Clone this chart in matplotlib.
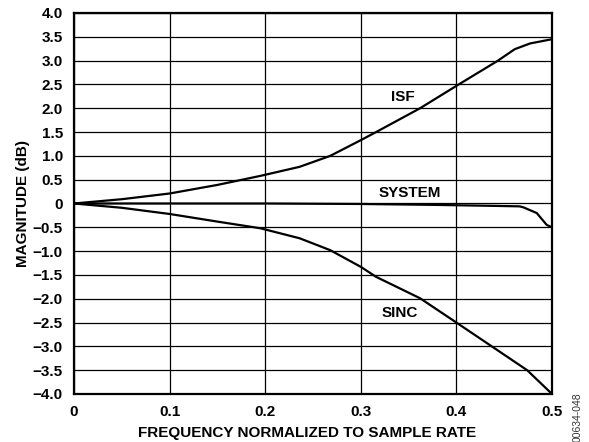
import matplotlib
matplotlib.use('Agg')
import matplotlib.pyplot as plt

plt.rcParams['font.family'] = ['Liberation Sans', 'DejaVu Sans']
plt.rcParams['font.weight'] = 'bold'

# values (normalized frequency, dB)
isf_freq = [0, 0.05, 0.1, 0.15, 0.195, 0.236, 0.268, 0.3, 0.316, 0.362, 0.4, 0.4435, 0.461, 0.477, 0.5]
isf_db = [0, 0.09, 0.21, 0.39, 0.58, 0.77, 1.0, 1.33, 1.5, 2.0, 2.47, 3.0, 3.24, 3.36, 3.45]

sinc_freq = [0, 0.05, 0.1, 0.15, 0.195, 0.236, 0.268, 0.3, 0.316, 0.362, 0.4, 0.437, 0.474, 0.5]
sinc_db = [0, -0.09, -0.22, -0.38, -0.52, -0.73, -0.98, -1.33, -1.54, -1.99, -2.5, -3.0, -3.5, -4.0]

sys_freq = [0, 0.1, 0.2, 0.3, 0.38, 0.44, 0.466, 0.47, 0.484, 0.4945, 0.5]
sys_db = [0, 0, 0, -0.01, -0.03, -0.05, -0.06, -0.08, -0.2, -0.45, -0.5]

x_ticks = [0, 0.1, 0.2, 0.3, 0.4, 0.5]
x_labels = ['0', '0.1', '0.2', '0.3', '0.4', '0.5']
y_ticks = [4.0, 3.5, 3.0, 2.5, 2.0, 1.5, 1.0, 0.5, 0, -0.5, -1.0, -1.5, -2.0, -2.5, -3.0, -3.5, -4.0]
y_labels = ['4.0', '3.5', '3.0', '2.5', '2.0', '1.5', '1.0', '0.5', '0',
            '\u22120.5', '\u22121.0', '\u22121.5', '\u22122.0', '\u22122.5', '\u22123.0', '\u22123.5', '\u22124.0']

fig = plt.figure(figsize=(5.89, 4.42), dpi=100)
ax = fig.add_axes([0.1256, 0.1086, 0.8116, 0.862])

ax.plot(isf_freq, isf_db, color='k', lw=1.6)
ax.plot(sinc_freq, sinc_db, color='k', lw=1.6)
ax.plot(sys_freq, sys_db, color='k', lw=1.6)

ax.set_xlim(0, 0.5)
ax.set_ylim(-4.0, 4.0)
ax.set_xticks(x_ticks)
ax.set_xticklabels(x_labels)
ax.set_yticks(y_ticks)
ax.set_yticklabels(y_labels)
ax.tick_params(length=0, labelsize=11, pad=8)
ax.grid(True, color='k', lw=0.9)
for s in ax.spines.values():
    s.set_linewidth(1.6)

ax.text(0.344, 2.24, 'ISF', fontsize=11, fontweight='bold', ha='center', va='center')
ax.text(0.351, 0.23, 'SYSTEM', fontsize=11, fontweight='bold', ha='center', va='center')
ax.text(0.341, -2.29, 'SINC', fontsize=11, fontweight='bold', ha='center', va='center')

ax.set_xlabel('FREQUENCY NORMALIZED TO SAMPLE RATE', fontsize=11, fontweight='bold', va='center')
ax.set_ylabel('MAGNITUDE (dB)', fontsize=11, fontweight='bold', va='center')
ax.xaxis.set_label_coords(0.488, -0.102)
ax.yaxis.set_label_coords(-0.107, 0.5)

fig.text(0.980, 0.057, '00634-048', rotation=90, fontsize=7.5, fontweight='normal',
         color='#333333', ha='center', va='center')

fig.savefig('out.png', dpi=100)
